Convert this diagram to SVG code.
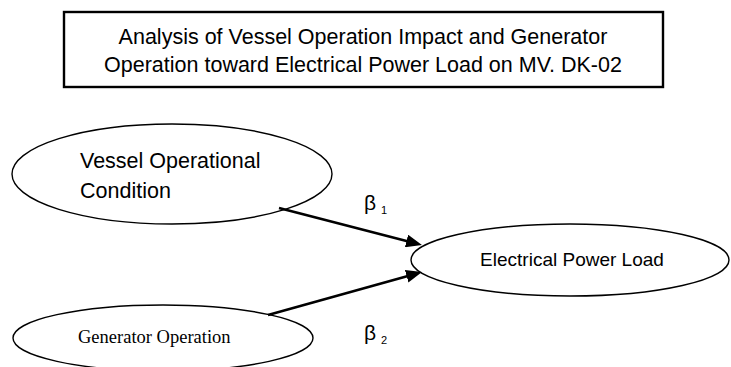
<svg xmlns="http://www.w3.org/2000/svg" width="731" height="367" viewBox="0 0 731 367">
  <style>
    .sans { font-family: "Liberation Sans", Arial, sans-serif; fill: #000; }
    .serif { font-family: "Liberation Serif", "Times New Roman", serif; fill: #000; }
    .node { fill: #fff; stroke: #000; stroke-width: 1.4; }
    .edge { stroke: #000; stroke-width: 2.6; fill: none; }
  </style>
  <defs>
    <marker id="arrow" markerUnits="userSpaceOnUse" markerWidth="17" markerHeight="13" refX="6" refY="6.5" orient="auto">
      <path d="M0,0 L16,6.5 L0,13 z" fill="#000"/>
    </marker>
  </defs>
  <rect width="731" height="367" fill="#fff"/>

  <g id="title">
    <rect x="64" y="12" width="599" height="75" fill="#fff" stroke="#000" stroke-width="2.4"/>
    <text class="sans" font-size="21.5" text-anchor="middle" x="363" y="44">Analysis of Vessel Operation Impact and Generator</text>
    <text class="sans" font-size="21.5" text-anchor="middle" x="363" y="72">Operation toward Electrical Power Load on MV. DK-02</text>
  </g>

  <g id="node-vessel">
    <ellipse class="node" cx="172" cy="174" rx="160" ry="50"/>
    <text class="sans" font-size="21.5" x="80" y="168">Vessel Operational</text>
    <text class="sans" font-size="21.5" x="80" y="198">Condition</text>
  </g>

  <g id="node-generator">
    <ellipse class="node" cx="163" cy="338" rx="150" ry="33"/>
    <text class="serif" font-size="18.5" x="78" y="343">Generator Operation</text>
  </g>

  <g id="node-load">
    <ellipse class="node" cx="570" cy="260" rx="159" ry="36"/>
    <text class="sans" font-size="19" text-anchor="middle" x="572" y="266">Electrical Power Load</text>
  </g>

  <g id="connectors">
    <line class="edge" x1="279" y1="208" x2="412.3" y2="242.5" marker-end="url(#arrow)"/>
    <line class="edge" x1="268" y1="315" x2="412.4" y2="274.7" marker-end="url(#arrow)"/>
    <text class="sans" font-size="21" x="364" y="210">β<tspan font-size="11" dx="5" dy="4">1</tspan></text>
    <text class="sans" font-size="21" x="364" y="340">β<tspan font-size="11" dx="5" dy="4">2</tspan></text>
  </g>
</svg>
